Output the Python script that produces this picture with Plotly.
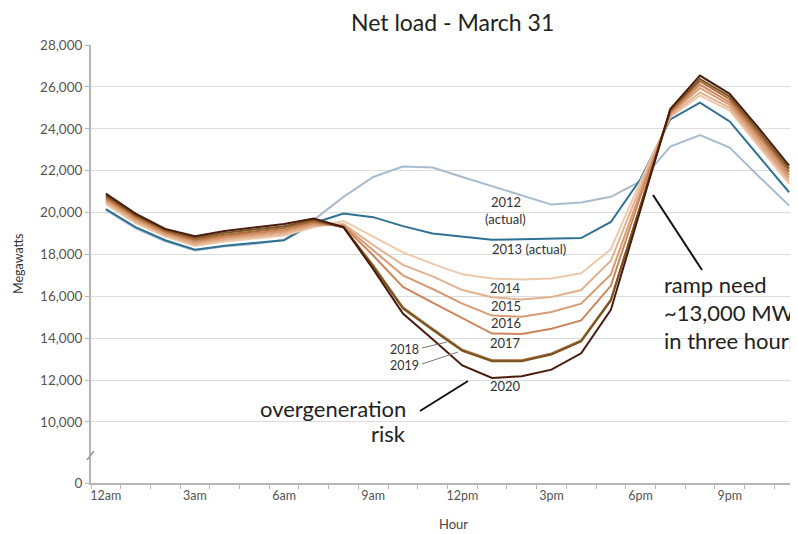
import plotly.graph_objects as go

hours = list(range(24))
hour_tick_vals = [0, 3, 6, 9, 12, 15, 18, 21]
hour_tick_text = ["12am", "3am", "6am", "9am", "12pm", "3pm", "6pm", "9pm"]

y_tick_vals = [7087, 10000, 12000, 14000, 16000, 18000, 20000, 22000, 24000, 26000, 28000]
y_tick_text = ["0", "10,000", "12,000", "14,000", "16,000", "18,000", "20,000",
               "22,000", "24,000", "26,000", "28,000"]

y2012 = [20130, 19250, 18630, 18190, 18390, 18500, 18700, 19650, 20750, 21700, 22200, 22150,
         21700, 21250, 20800, 20380, 20480, 20750, 21500, 23150, 23700, 23100, 21700, 20330]
y2013 = [20160, 19300, 18680, 18230, 18420, 18540, 18680, 19500, 19950, 19780, 19350, 19000,
         18850, 18700, 18730, 18760, 18780, 19550, 21600, 24450, 25250, 24350, 22650, 20970]
y2014 = [20400, 19500, 18850, 18400, 18620, 18750, 18900, 19300, 19600, 18850, 18100, 17550,
         17050, 16850, 16800, 16850, 17100, 18250, 21500, 24550, 25590, 24870, 23120, 21370]
y2015 = [20500, 19580, 18920, 18480, 18700, 18840, 18990, 19370, 19450, 18450, 17500, 16950,
         16300, 15960, 15850, 15970, 16300, 17700, 21250, 24620, 25740, 25000, 23270, 21510]
y2016 = [20580, 19660, 18990, 18560, 18780, 18920, 19080, 19440, 19400, 18200, 17000, 16350,
         15650, 15080, 15020, 15250, 15650, 17050, 21000, 24690, 25950, 25140, 23410, 21660]
y2017 = [20660, 19740, 19060, 18640, 18860, 19000, 19170, 19510, 19350, 17950, 16450, 15700,
         14950, 14220, 14200, 14450, 14850, 16500, 20800, 24760, 26110, 25270, 23560, 21800]
y2018 = [20740, 19820, 19120, 18720, 18940, 19090, 19260, 19580, 19300, 17480, 15480, 14450,
         13450, 12950, 12950, 13270, 13900, 15850, 20400, 24830, 26270, 25410, 23710, 21950]
y2019 = [20820, 19880, 19170, 18800, 19030, 19180, 19350, 19650, 19300, 17420, 15420, 14400,
         13400, 12900, 12900, 13220, 13850, 15800, 20350, 24890, 26380, 25540, 23850, 22100]
y2020 = [20900, 19950, 19220, 18870, 19120, 19270, 19450, 19720, 19300, 17300, 15180, 13950,
         12700, 12100, 12180, 12500, 13280, 15350, 20100, 24950, 26540, 25670, 24000, 22240]

series_names = ["2012", "2013", "2014", "2015", "2016", "2017", "2018", "2019", "2020"]
series_values = [y2012, y2013, y2014, y2015, y2016, y2017, y2018, y2019, y2020]
series_colors = ["#a9bccf", "#2f7193", "#ecc9ab", "#e2b18e", "#d89b74", "#cc865b",
                 "#a86a3a", "#7a5421", "#4a1a0c"]

FONT = "Lato"

fig = go.Figure()
for name, vals, col in zip(series_names, series_values, series_colors):
    fig.add_trace(go.Scatter(x=hours, y=vals, mode="lines", name=name,
                             line=dict(color=col, width=2), showlegend=False,
                             hoverinfo="skip"))

# page offset (default body margin) and plot area in screenshot pixels
OFF = 8
FIG_W, FIG_H = 790, 526
L, T, B = 91, 45, 483
W_PLOT = FIG_W + OFF - L
H_PLOT = B - T


def px_x(px):
    return (px - L) / W_PLOT


def px_y(py):
    return (B - py) / H_PLOT


annotations = []


def txt(text, x, y, size=13, color="#333333", xanchor="center", angle=0):
    annotations.append(dict(text=text, x=px_x(x), y=px_y(y), xref="paper", yref="paper",
                            showarrow=False, xanchor=xanchor, yanchor="middle",
                            textangle=angle,
                            font=dict(family=FONT, size=size, color=color)))


txt("Net load - March 31", 452, 22, size=23, color="#222222")
txt("Megawatts", 18, 264, size=12.5, color="#333333", angle=-90)
txt("Hour", 453, 524, size=13, color="#444444")

txt("2012", 506, 202)
txt("(actual)", 506, 219)
txt("2013 (actual)", 529, 249)
txt("2014", 506, 288)
txt("2015", 506, 306)
txt("2016", 506, 323)
txt("2017", 506, 343)
txt("2020", 506, 386)
txt("2018", 421, 349, size=12.5, xanchor="right")
txt("2019", 421, 365, size=12.5, xanchor="right")

txt("overgeneration", 408, 408, size=22, color="#222222", xanchor="right")
txt("risk", 408, 433, size=22, color="#222222", xanchor="right")

txt("ramp need", 662, 284, size=22, color="#222222", xanchor="left")
txt("~13,000 MW", 662, 312, size=22, color="#222222", xanchor="left")
txt("in three hours", 662, 340, size=22, color="#222222", xanchor="left")

shapes = []


def seg(x0, y0, x1, y1, color, width):
    shapes.append(dict(type="line", xref="paper", yref="paper",
                       x0=px_x(x0), y0=px_y(y0), x1=px_x(x1), y1=px_y(y1),
                       line=dict(color=color, width=width)))


seg(422, 348, 447, 342, "#777777", 1)
seg(422, 364, 458, 352, "#777777", 1)
seg(420, 411, 468, 381, "#111111", 2)
seg(653, 195, 702, 270, "#111111", 2)
# axis break mark
seg(87, 460, 94, 451, "#999999", 1.5)

fig.update_layout(
    width=FIG_W, height=FIG_H,
    margin=dict(l=L - OFF, r=0, t=T - OFF, b=FIG_H - (B - OFF), pad=0),
    paper_bgcolor="white", plot_bgcolor="white",
    font=dict(family=FONT, color="#555555"),
    annotations=annotations, shapes=shapes,
    xaxis=dict(range=[-0.5, 23.3], tickmode="array", tickvals=hour_tick_vals,
               ticktext=hour_tick_text, ticks="", showgrid=False, zeroline=False,
               showline=True, linecolor="#b5b5b5", linewidth=2,
               tickfont=dict(family=FONT, size=12.5, color="#555555"),
               minor=dict(tickmode="array", tickvals=[h + 0.5 for h in range(-1, 23)],
                          ticks="outside", ticklen=4, tickcolor="#b5b5b5", tickwidth=1,
                          showgrid=False)),
    yaxis=dict(range=[7087, 28000], tickmode="array", tickvals=y_tick_vals,
               ticktext=y_tick_text, ticks="outside", ticklen=4, tickcolor="#b5b5b5",
               showgrid=True, gridcolor="#dcdcdc", gridwidth=1, zeroline=False,
               showline=True, linecolor="#b5b5b5", linewidth=2,
               tickfont=dict(family=FONT, size=13.5, color="#555555")),
)

fig.write_html("out.html")
